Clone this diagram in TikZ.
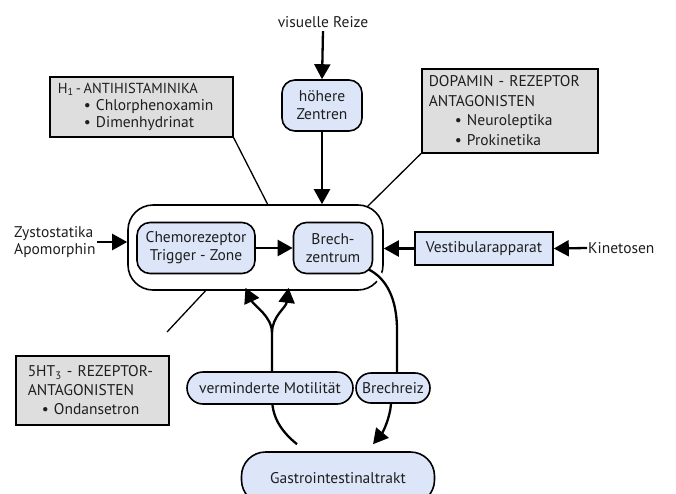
\documentclass[tikz,border=0pt]{standalone}
\usepackage{fontspec}
\setmainfont{PT Sans}
\usetikzlibrary{arrows.meta,backgrounds,calc}
\definecolor{boxblue}{HTML}{DCE6F8}
\definecolor{boxgray}{HTML}{DEDEDE}
\definecolor{txt}{HTML}{1E1E1E}
\begin{document}
\begin{tikzpicture}[x=1pt,y=-1pt,
  font=\fontsize{15.5}{18}\selectfont, text=txt,
  bluebox/.style={draw, line width=1.6pt, fill=boxblue, rounded corners=13pt, align=center, inner sep=1pt},
  graybox/.style={draw, line width=1.6pt, fill=boxgray, align=left, anchor=north west, inner ysep=0pt},
  arr/.style={line width=2.3pt, -{Triangle[length=15pt,width=16pt]}},
  pointer/.style={line width=1.3pt},
  curve/.style={line width=2.3pt}]
\useasboundingbox (0,0) rectangle (676,493);
\clip (0,0) rectangle (676,493);

\begin{pgfonlayer}{background}
\node[draw, line width=1.6pt, fill=white, rounded corners=25pt, minimum width=255pt, minimum height=85pt] (big) at (255.5,247.5) {};
\end{pgfonlayer}

% text labels
\node (vis) at (323,22) {visuelle Reize};
\node[anchor=west, align=left, inner sep=1pt, font=\fontsize{15.5}{17}\selectfont] (zyst) at (13,242) {Zystostatika\\Apomorphin};
\node[anchor=west, inner sep=1pt] (kin) at (587,248) {Kinetosen};

% blue boxes
\node[bluebox, minimum width=80pt, minimum height=51pt] (hz) at (322,105.5) {höhere\\Zentren};
\node[bluebox, minimum width=118pt, minimum height=51pt] (chemo) at (196,248) {Chemorezeptor\\Trigger - Zone};
\node[bluebox, minimum width=79pt, minimum height=51pt] (brech) at (333,248) {Brech-\\zentrum};
\node[bluebox, rounded corners=0pt, minimum width=138pt, minimum height=33pt] (vest) at (484,248.5) {Vestibularapparat};
\node[bluebox, rounded corners=16pt, minimum width=166pt, minimum height=32pt] (verm) at (270,388) {verminderte Motilität};
\node[bluebox, rounded corners=15pt, minimum width=74pt, minimum height=30pt] (brz) at (393,388) {Brechreiz};
\node[bluebox, rounded corners=24pt, minimum width=193pt, minimum height=52pt] (gastro) at (338,478) {Gastrointestinaltrakt};

% gray boxes
\node[graybox, inner xsep=8pt, text width=167pt, minimum height=60pt, font=\fontsize{15.5}{17}\selectfont] (h1) at (49,76)
  {\mbox{\fontsize{14.5}{17}\selectfont H\textsubscript{1}\,-\,ANTIHISTAMINIKA}\\
   \hspace*{26pt}• Chlorphenoxamin\\
   \hspace*{26pt}• Dimenhydrinat};
\node[graybox, inner xsep=7pt, text width=162pt, minimum height=84pt, font=\fontsize{15.5}{19.5}\selectfont] (dop) at (421,68)
  {\mbox{DOPAMIN - REZEPTOR}\\
   ANTAGONISTEN\\
   \hspace*{26pt}• Neuroleptika\\
   \hspace*{26pt}• Prokinetika};
\node[graybox, inner xsep=12pt, text width=129pt, minimum height=69pt, font=\fontsize{15.5}{19}\selectfont] (ht) at (15,355)
  {\mbox{5HT\textsubscript{3} - REZEPTOR-}\\
   ANTAGONISTEN\\
   \hspace*{14pt}• Ondansetron};

% straight arrows
\draw[arr] (vis.south) -- (hz.north);
\draw[arr] (hz.south) -- (hz.south |- big.north);
\draw[arr] (chemo.east) -- (brech.west);
\draw[arr] (zyst.east |- 0,242) -- (big.west |- 0,242);
\draw[arr] (vest.west) -- (vest.west -| big.east);
\draw[arr] (kin.west) -- (vest.east);

% pointer lines
\coordinate (h1end) at (268,205);
\coordinate (dopend) at (367,207);
\coordinate (htend) at (167,332);
\draw[pointer] (h1.south east) -- (h1end);
\draw[pointer] (dop.south west) -- (dopend);
\draw[pointer] ([xshift=-50pt]big.south) -- (htend);

% curves
\coordinate (split) at (272,333);
\begin{pgfonlayer}{background}
\draw[curve, preaction={draw=white, line width=9pt}] ([shift={(-5,-5)}]brech.south east)
   .. controls (386,278) and (397,298) .. (397,330) -- ([xshift=4pt]brz.north);
\draw[curve] ([shift={(-41,-7)}]gastro.north) .. controls (282,432) and (272,418) .. (272,398) -- (split);
\end{pgfonlayer}
\draw[arr] (split) .. controls (272,316) and (254,306) .. ([xshift=-10pt,yshift=3pt]big.south);
\draw[arr] (split) .. controls (272,316) and (286,308) .. ([xshift=33pt,yshift=3pt]big.south);
\draw[arr] ([xshift=-2pt]brz.south) .. controls (390,418) and (383,432) .. ([shift={(35,-7)}]gastro.north);
\end{tikzpicture}
\end{document}
